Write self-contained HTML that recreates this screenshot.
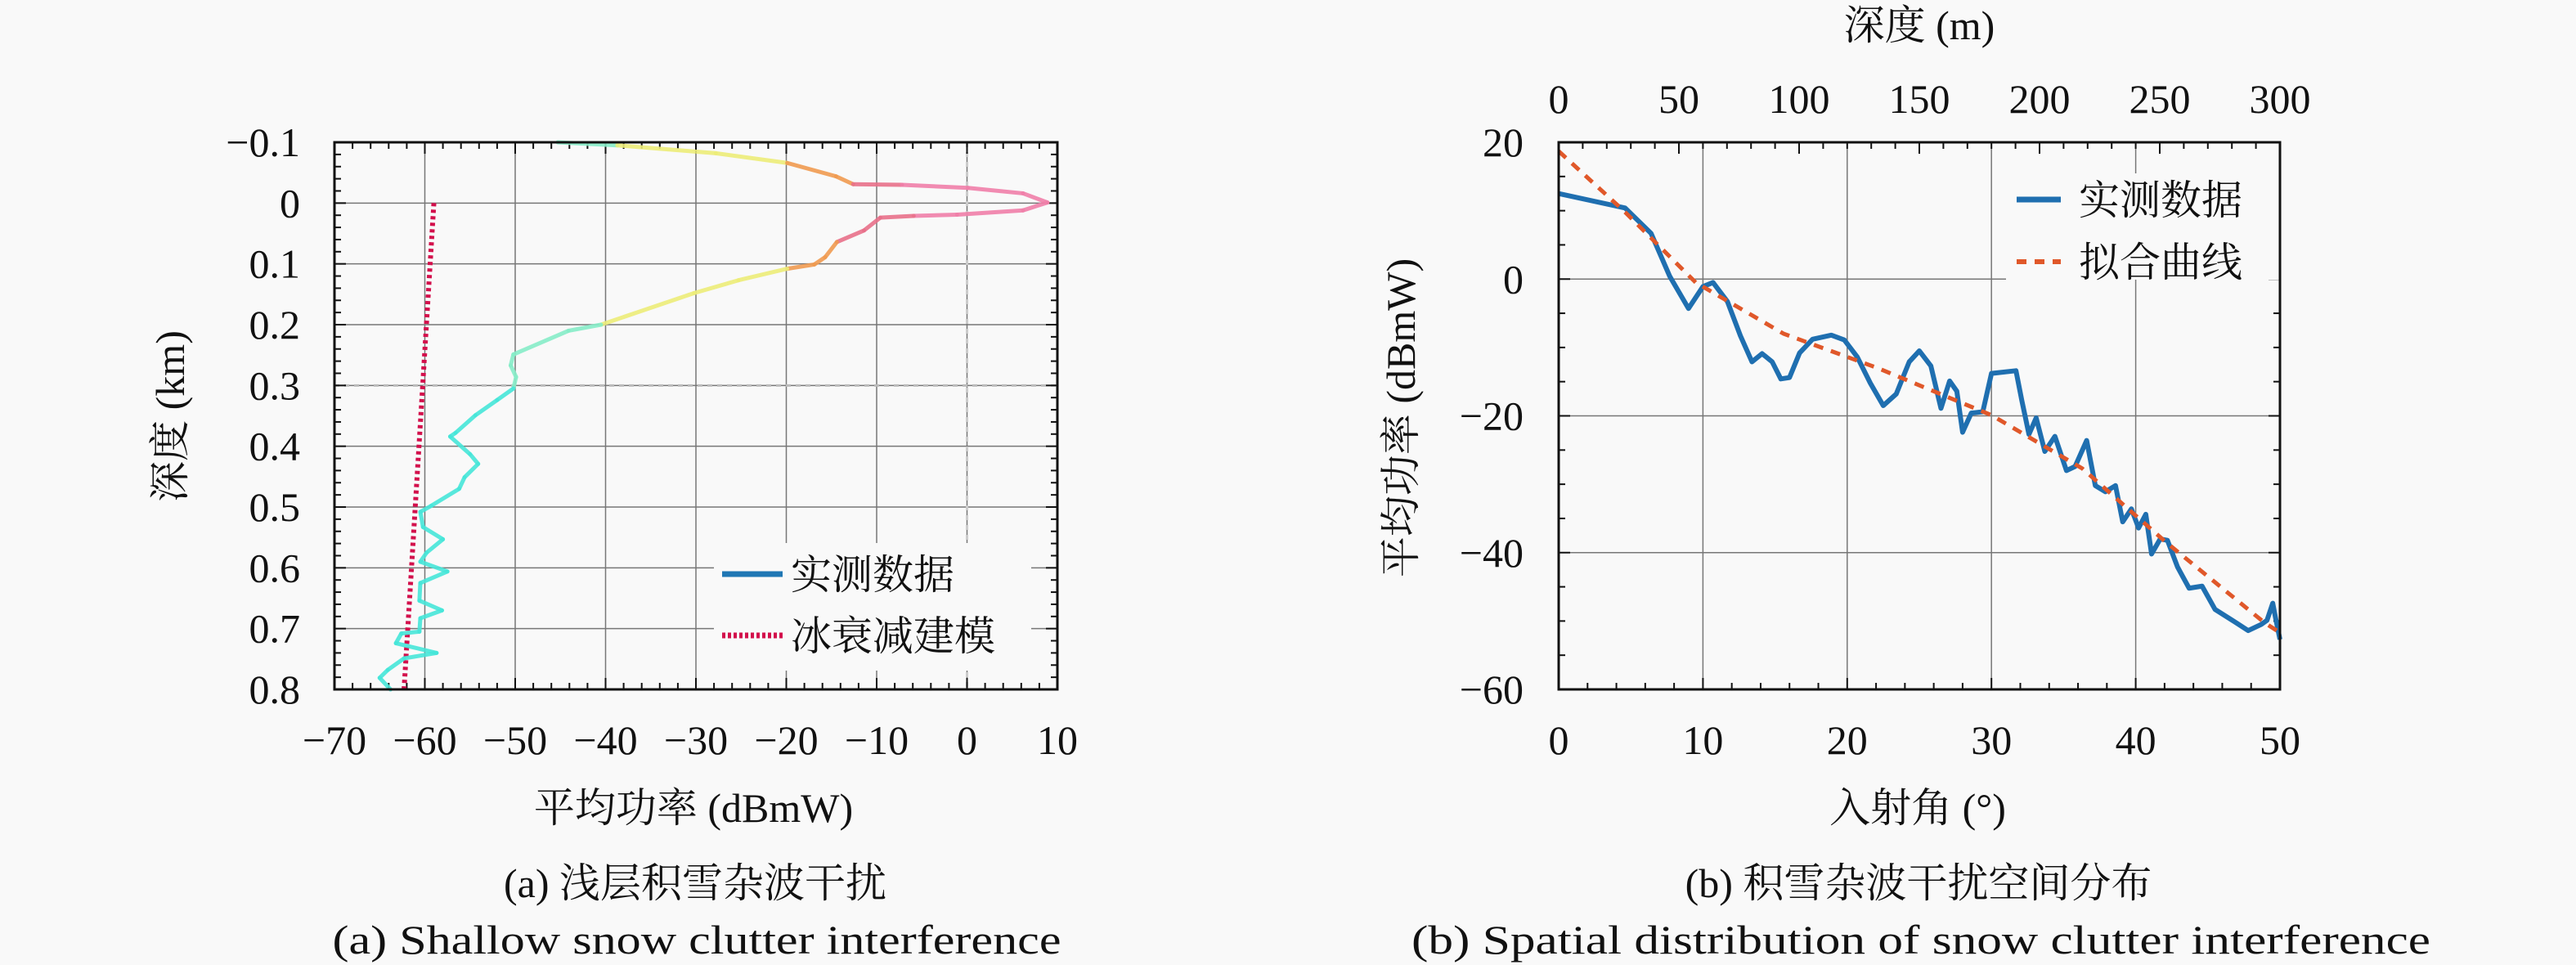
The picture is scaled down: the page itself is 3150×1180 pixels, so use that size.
<!DOCTYPE html>
<html><head><meta charset="utf-8"><style>
html,body{margin:0;padding:0;background:#f9f9f9;}
svg{display:block;}
text{font-family:"Liberation Serif","Noto Serif CJK SC","Noto Sans CJK SC",serif;fill:#111;}
</style></head><body>
<svg id="fig" width="3150" height="1180" viewBox="0 0 3150 1180" xmlns="http://www.w3.org/2000/svg">
<rect width="3150" height="1180" fill="#f9f9f9"/>
<g id="left"></g>
<g id="right"></g>
<text x="850" y="1097" font-size="50" text-anchor="middle">(a) 浅层积雪杂波干扰</text>
<text x="852" y="1166" font-size="50" text-anchor="middle" textLength="891" lengthAdjust="spacingAndGlyphs">(a) Shallow snow clutter interference</text>
<text x="2346" y="1097" font-size="50" text-anchor="middle">(b) 积雪杂波干扰空间分布</text>
<text x="2349" y="1166" font-size="50" text-anchor="middle" textLength="1246" lengthAdjust="spacingAndGlyphs">(b) Spatial distribution of snow clutter interference</text>
</svg>
<script>
// ---- Chart A data ----
const aPower = [-45.3,-38.7,-27.8,-19.9,-14.5,-12.6,-7.2,0.1,6.2,8.9,6.2,-1.1,-5.9,-9.6,-11.4,-14.4,-15.7,-16.9,-19.9,-25.3,-30.2,-40.5,-44.1,-50.2,-50.5,-49.9,-50.2,-52.0,-54.4,-56.6,-57.2,-55.0,-54.1,-55.6,-56.2,-59.3,-60.5,-60.2,-58.0,-59.8,-60.5,-57.5,-60.5,-60.6,-58.1,-60.5,-60.6,-62.6,-63.2,-58.7,-62.3,-64.1,-65.0,-63.8];
const aDepth = [-0.1,-0.095,-0.082,-0.066,-0.044,-0.031,-0.030,-0.025,-0.016,-0.001,0.012,0.019,0.021,0.024,0.045,0.064,0.089,0.101,0.108,0.127,0.148,0.200,0.210,0.249,0.267,0.286,0.305,0.324,0.349,0.378,0.384,0.413,0.429,0.451,0.470,0.498,0.508,0.533,0.553,0.575,0.590,0.606,0.625,0.654,0.670,0.683,0.705,0.708,0.724,0.740,0.749,0.768,0.781,0.8];
const aModelPower = [-59.0,-62.3];
const aModelDepth = [0.0,0.8];
const aXTicks = [-70,-60,-50,-40,-30,-20,-10,0,10];
const aYTicks = [-0.1,0,0.1,0.2,0.3,0.4,0.5,0.6,0.7,0.8];
// ---- Chart B data ----
const bAngle = [0,4.6,6.4,7.7,9.0,10.0,10.7,11.7,12.6,13.4,14.1,14.8,15.4,16.0,16.7,17.6,18.9,19.8,20.7,21.6,22.5,23.4,24.3,25.0,25.8,26.5,27.1,27.6,28.0,28.6,29.4,30.0,31.7,32.1,32.6,33.1,33.7,34.4,35.2,35.8,36.6,37.2,37.9,38.6,39.1,39.7,40.2,40.7,41.1,41.7,42.2,42.9,43.7,44.6,45.5,46.7,47.8,48.7,49.1,49.5,49.7,50];
const bPower = [12.5,10.4,6.7,0.4,-4.3,-1.1,-0.5,-3.3,-8.3,-12.1,-10.9,-12.1,-14.6,-14.4,-10.8,-8.8,-8.2,-8.9,-11.4,-15.2,-18.5,-16.8,-12.1,-10.5,-12.7,-18.9,-14.9,-16.4,-22.4,-19.6,-19.4,-13.8,-13.4,-17.7,-22.7,-20.3,-25.2,-23.0,-28.0,-27.4,-23.6,-30.2,-31.1,-30.2,-35.5,-33.6,-36.4,-34.4,-40.2,-38.0,-38.2,-42.1,-45.2,-44.9,-48.3,-49.9,-51.4,-50.5,-49.9,-47.4,-49.6,-52.7];
const bFitAngle = [0,4.6,9.5,15.6,22.1,30,36.3,42.0,48.9,50];
const bFitPower = [18.7,9.8,-0.5,-8,-13,-19.9,-27.7,-38.3,-50.2,-51.7];
const bXTicks = [0,10,20,30,40,50];
const bYTicks = [20,0,-20,-40,-60];
const bTopTicks = [0,50,100,150,200,250,300];

const NS="http://www.w3.org/2000/svg";
function mk(parent,tag,attrs,text){const e=document.createElementNS(NS,tag);for(const k in attrs)e.setAttribute(k,attrs[k]);if(text!==undefined)e.textContent=text;parent.appendChild(e);return e;}
function fmt(v){return (v<0?'\u2212':'')+Math.abs(v);}

// ---------- Chart A ----------
(function(){
const g=document.getElementById('left');
const L=409,R=1293,T=174,B=843;
const x=v=>L+(v+70)/80*(R-L);
const y=v=>T+(v+0.1)/0.9*(B-T);
// grid
aXTicks.forEach(v=>{if(v>-70&&v<10){const l=mk(g,'line',{x1:x(v),x2:x(v),y1:T,y2:B,stroke:'#777','stroke-width':1.5});

}});
aYTicks.forEach(v=>{if(v>-0.1&&v<0.8){const l=mk(g,'line',{x1:L,x2:R,y1:y(v),y2:y(v),stroke:'#777','stroke-width':1.5});

}});
mk(g,'line',{x1:L,x2:R,y1:y(0.3),y2:y(0.3),stroke:'#bbb','stroke-width':3,'stroke-dasharray':'6 6'});
mk(g,'line',{x1:x(0),x2:x(0),y1:T,y2:B,stroke:'#ccc','stroke-width':3,'stroke-dasharray':'6 6'});
// minor ticks
for(let v=-70;v<=10;v+=2){const len=(v%10===0)?14:8;mk(g,'line',{x1:x(v),x2:x(v),y1:B,y2:B-len,stroke:'#111','stroke-width':2});mk(g,'line',{x1:x(v),x2:x(v),y1:T,y2:T+len,stroke:'#111','stroke-width':2});}
for(let i=0;i<=45;i++){const v=-0.1+i*0.02;const len=(i%5===0)?14:8;mk(g,'line',{x1:L,x2:L+len,y1:y(v),y2:y(v),stroke:'#111','stroke-width':2});mk(g,'line',{x1:R,x2:R-len,y1:y(v),y2:y(v),stroke:'#111','stroke-width':2});}
// model
const m=mk(g,'line',{x1:x(aModelPower[0]),y1:y(aModelDepth[0]),x2:x(aModelPower[1]),y2:y(aModelDepth[1]),stroke:'#d3104c','stroke-width':6,'stroke-dasharray':'4 4'});


// measured data coloured segments
function col(p){if(p>-5)return '#f07ea8';if(p>-13)return '#e8708a';if(p>-22)return '#f09a50';if(p>-42)return '#ecec78';if(p>-51)return '#86ecc8';return '#46e6d8';}
for(let i=0;i<aPower.length-1;i++){const s=mk(g,'line',{x1:x(aPower[i]),y1:y(aDepth[i]),x2:x(aPower[i+1]),y2:y(aDepth[i+1]),stroke:col((aPower[i]+aPower[i+1])/2),'stroke-width':5,'stroke-linecap':'round','stroke-opacity':0.9});

}
// legend
const lg=mk(g,'g',{});


mk(lg,'rect',{x:873,y:664,width:388,height:156,fill:'#f9f9f9'});
mk(lg,'line',{x1:883,x2:957,y1:702,y2:702,stroke:'#1f77b4','stroke-width':7});
mk(lg,'text',{x:967,y:720,'font-size':50},'实测数据');
mk(lg,'line',{x1:883,x2:957,y1:777,y2:777,stroke:'#d3104c','stroke-width':7,'stroke-dasharray':'4 3'});
mk(lg,'text',{x:967,y:795,'font-size':50},'冰衰减建模');
// frame
mk(g,'rect',{x:L,y:T,width:R-L,height:B-T,fill:'none',stroke:'#111','stroke-width':3});
// tick labels
aXTicks.forEach(v=>{const t=mk(g,'text',{x:x(v),y:922,'font-size':50,'text-anchor':'middle'},fmt(v));

});
aYTicks.forEach(v=>{const t=mk(g,'text',{x:367,y:y(v)+17,'font-size':50,'text-anchor':'end'},fmt(Math.round(v*10)/10));

});
const xl=mk(g,'text',{x:848,y:1005,'font-size':50,'text-anchor':'middle'},'平均功率 (dBmW)');


const yl=mk(g,'text',{x:0,y:0,'font-size':50,'text-anchor':'middle',transform:'translate(225,509) rotate(-90)'},'深度 (km)');


})();

// ---------- Chart B ----------
(function(){
const g=document.getElementById('right');
const L=1906,R=2788,T=174,B=843;
const x=v=>L+v/50*(R-L);
const xm=v=>L+v/300*(R-L);
const y=v=>T+(20-v)/80*(B-T);
bXTicks.forEach(v=>{if(v>0&&v<50){const l=mk(g,'line',{x1:x(v),x2:x(v),y1:T,y2:B,stroke:'#777','stroke-width':1.5});

}});
bYTicks.forEach(v=>{if(v<20&&v>-60){const l=mk(g,'line',{x1:L,x2:R,y1:y(v),y2:y(v),stroke:'#777','stroke-width':1.5});

}});
for(let v=0;v<=50;v+=2){const len=(v%10===0)?14:8;mk(g,'line',{x1:x(v),x2:x(v),y1:B,y2:B-len,stroke:'#111','stroke-width':2});}
for(let v=0;v<=300;v+=10){const len=(v%50===0)?14:8;mk(g,'line',{x1:xm(v),x2:xm(v),y1:T,y2:T+len,stroke:'#111','stroke-width':2});}
for(let v=-60;v<=20;v+=5){const len=(v%20===0)?14:8;mk(g,'line',{x1:L,x2:L+len,y1:y(v),y2:y(v),stroke:'#111','stroke-width':2});mk(g,'line',{x1:R,x2:R-len,y1:y(v),y2:y(v),stroke:'#111','stroke-width':2});}
// legend bg
const lg=mk(g,'g',{});


mk(lg,'rect',{x:2453,y:212,width:335,height:130,fill:'#f9f9f9'});
// series
const mp=bAngle.map((a,i)=>x(a)+','+y(bPower[i])).join(' ');
const ml=mk(g,'polyline',{points:mp,fill:'none',stroke:'#1f6fb0','stroke-width':6,'stroke-linejoin':'round'});


const fp=bFitAngle.map((a,i)=>x(a)+','+y(bFitPower[i])).join(' ');
const fl=mk(g,'polyline',{points:fp,fill:'none',stroke:'#e0582a','stroke-width':5,'stroke-dasharray':'12 10'});


mk(lg,'line',{x1:2466,x2:2520,y1:244,y2:244,stroke:'#1f6fb0','stroke-width':7});
mk(lg,'text',{x:2542,y:262,'font-size':50},'实测数据');
mk(lg,'line',{x1:2466,x2:2520,y1:320,y2:320,stroke:'#e0582a','stroke-width':6,'stroke-dasharray':'12 10'});
mk(lg,'text',{x:2542,y:338,'font-size':50},'拟合曲线');
mk(g,'rect',{x:L,y:T,width:R-L,height:B-T,fill:'none',stroke:'#111','stroke-width':3});
bXTicks.forEach(v=>{const t=mk(g,'text',{x:x(v),y:922,'font-size':50,'text-anchor':'middle'},fmt(v));

});
bTopTicks.forEach(v=>{const t=mk(g,'text',{x:xm(v),y:138,'font-size':50,'text-anchor':'middle'},String(v));

});
bYTicks.forEach(v=>{const t=mk(g,'text',{x:1863,y:y(v)+17,'font-size':50,'text-anchor':'end'},fmt(v));

});
const xl=mk(g,'text',{x:2345,y:1005,'font-size':50,'text-anchor':'middle'},'入射角 (°)');


const tl=mk(g,'text',{x:2347,y:48,'font-size':50,'text-anchor':'middle'},'深度 (m)');


const yl=mk(g,'text',{x:0,y:0,'font-size':50,'text-anchor':'middle',transform:'translate(1730,511) rotate(-90)'},'平均功率 (dBmW)');


})();
</script>
</body></html>
